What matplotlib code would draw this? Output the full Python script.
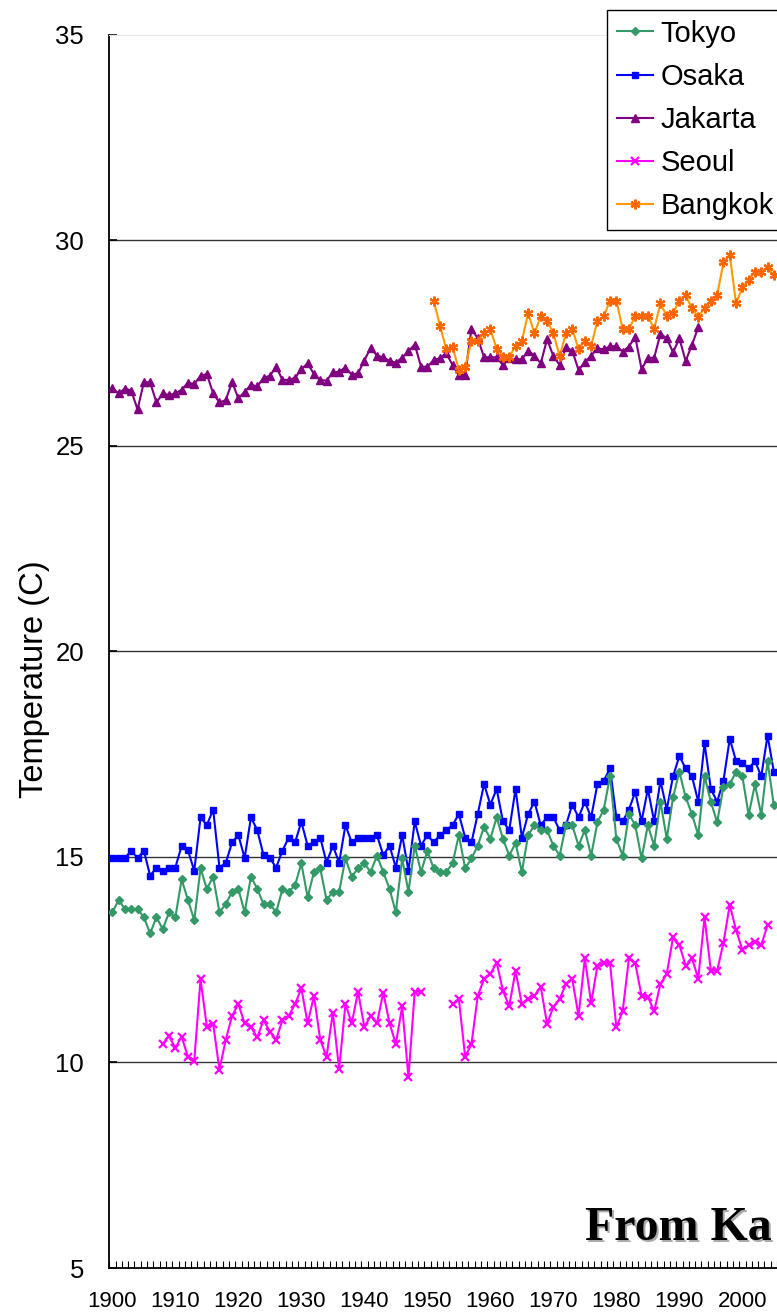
import matplotlib
matplotlib.use('Agg')
import matplotlib.pyplot as plt
from matplotlib import font_manager
import numpy as np

# annual mean temperatures (C)
tokyo_years = list(range(1900, 2006))
tokyo = [13.65, 13.95, 13.73, 13.73, 13.73, 13.53, 13.14, 13.53, 13.24, 13.65,
         13.53, 14.45, 13.95, 13.46, 14.72, 14.22, 14.52, 13.65, 13.85, 14.15,
         14.22, 13.65, 14.52, 14.22, 13.85, 13.85, 13.65, 14.22, 14.15, 14.31,
         14.84, 14.02, 14.63, 14.72, 13.95, 14.15, 14.15, 14.96, 14.52, 14.72,
         14.84, 14.63, 15.03, 14.63, 14.22, 13.65, 14.96, 14.15, 15.27, 14.63,
         15.14, 14.72, 14.63, 14.63, 14.84, 15.53, 14.72, 14.96, 15.27, 15.73,
         15.44, 15.96, 15.44, 15.03, 15.34, 14.63, 15.53, 15.77, 15.65, 15.65,
         15.27, 15.03, 15.77, 15.77, 15.27, 15.65, 15.03, 15.84, 16.15, 16.96,
         15.44, 15.03, 16.04, 15.77, 14.96, 15.77, 15.27, 16.34, 15.44, 16.45,
         17.07, 16.45, 16.04, 15.53, 16.96, 16.34, 15.84, 16.71, 16.76, 17.07,
         16.96, 16.02, 16.76, 16.02, 17.33, 16.25]

osaka_years = list(range(1900, 2006))
osaka = [14.97, 14.97, 14.97, 15.15, 14.97, 15.15, 14.54, 14.74, 14.66, 14.74,
         14.74, 15.27, 15.16, 14.66, 15.96, 15.77, 16.15, 14.74, 14.85, 15.35,
         15.53, 14.97, 15.96, 15.65, 15.04, 14.97, 14.74, 15.15, 15.47, 15.35,
         15.85, 15.27, 15.35, 15.47, 14.86, 15.27, 14.86, 15.77, 15.35, 15.47,
         15.47, 15.47, 15.53, 15.04, 15.27, 14.74, 15.53, 14.66, 15.86, 15.27,
         15.53, 15.35, 15.53, 15.65, 15.77, 16.04, 15.47, 15.35, 16.04, 16.77,
         16.27, 16.65, 15.86, 15.65, 16.65, 15.47, 16.04, 16.34, 15.77, 15.96,
         15.96, 15.65, 15.77, 16.27, 15.96, 16.34, 15.96, 16.77, 16.85, 17.15,
         15.96, 15.86, 16.15, 16.58, 15.86, 16.65, 15.86, 16.85, 16.15, 16.96,
         17.45, 17.15, 16.96, 16.34, 17.76, 16.65, 16.34, 16.85, 17.87, 17.33,
         17.27, 17.15, 17.33, 16.96, 17.95, 17.07]

jakarta_years = list(range(1900, 1994))
jakarta = [26.40, 26.27, 26.39, 26.34, 25.88, 26.54, 26.54, 26.05, 26.27, 26.23,
           26.27, 26.36, 26.53, 26.50, 26.70, 26.74, 26.27, 26.05, 26.11, 26.55,
           26.15, 26.31, 26.48, 26.44, 26.65, 26.70, 26.92, 26.60, 26.60, 26.65,
           26.86, 27.00, 26.74, 26.60, 26.58, 26.78, 26.80, 26.90, 26.73, 26.76,
           27.07, 27.38, 27.19, 27.15, 27.06, 27.02, 27.14, 27.30, 27.46, 26.92,
           26.92, 27.08, 27.13, 27.25, 26.96, 26.72, 26.72, 27.84, 27.61, 27.15,
           27.15, 27.15, 26.96, 27.13, 27.10, 27.10, 27.31, 27.19, 27.00, 27.59,
           27.18, 26.96, 27.39, 27.31, 26.84, 27.03, 27.19, 27.37, 27.34, 27.42,
           27.42, 27.29, 27.41, 27.65, 26.86, 27.13, 27.14, 27.72, 27.61, 27.27,
           27.61, 27.06, 27.45, 27.88]

nan = np.nan
seoul_years = list(range(1908, 2005))
seoul = [10.45, 10.64,
         10.35, 10.63, 10.13, 10.04, 12.02, 10.87, 10.94, 9.82, 10.55, 11.13,
         11.42, 10.95, 10.86, 10.61, 11.03, 10.75, 10.55, 11.03, 11.13, 11.42,
         11.80, 10.95, 11.62, 10.55, 10.14, 11.21, 9.83, 11.42, 10.95, 11.72,
         10.86, 11.13, 10.95, 11.70, 10.95, 10.45, 11.36, 9.64, 11.72, 11.72,
         nan, nan, nan, nan, 11.42, 11.54, 10.14, 10.44, 11.62, 12.03,
         12.15, 12.43, 11.74, 11.37, 12.23, 11.42, 11.54, 11.62, 11.84, 10.94,
         11.34, 11.54, 11.91, 12.03, 11.13, 12.53, 11.44, 12.35, 12.43, 12.41,
         10.85, 11.24, 12.53, 12.41, 11.62, 11.60, 11.24, 11.91, 12.15, 13.04,
         12.86, 12.35, 12.53, 12.04, 13.53, 12.23, 12.23, 12.91, 13.83, 13.22,
         12.74, 12.85, 12.93, 12.85, 13.34]

bangkok_years = list(range(1951, 2006))
bangkok = [28.53, 27.92, 27.35, 27.41, 26.84, 26.92, 27.55, 27.55, 27.73,
           27.84, 27.35, 27.16, 27.16, 27.42, 27.55, 28.22, 27.73, 28.15, 28.04,
           27.73, 27.18, 27.73, 27.84, 27.35, 27.55, 27.42, 28.04, 28.15, 28.53,
           28.53, 27.84, 27.84, 28.15, 28.15, 28.15, 27.84, 28.46, 28.15, 28.22,
           28.53, 28.66, 28.34, 28.14, 28.34, 28.53, 28.66, 29.46, 29.64, 28.46,
           28.85, 29.03, 29.23, 29.23, 29.35, 29.15]

y_ticks = [5, 10, 15, 20, 25, 30, 35]
x_labels = list(range(1900, 2001, 10))

# narrow Arial look-alike if there is one, else plain Liberation Sans a bit smaller
names = {f.name for f in font_manager.fontManager.ttflist}
narrow = 'Liberation Sans'
for cand in ['Liberation Sans Narrow', 'Arial Narrow']:
    if cand in names:
        narrow = cand
        break
is_narrow = narrow != 'Liberation Sans'
xt_size = 18.4 if is_narrow else 16
yt_size = 20.8 if is_narrow else 18.5
yl_size = 28 if is_narrow else 23.5

fig = plt.figure(figsize=(7.77, 13.13), dpi=100)
W, H = 777.0, 1313.0
x0, x1 = 1899.5, 2009.5
px_per_year = 6.3
left = 109.2
ax_w = (x1 - x0) * px_per_year
ax = fig.add_axes([left / W, (H - 1268) / H, ax_w / W, (1268 - 34.5) / H])

for y in y_ticks[1:-1]:
    ax.axhline(y, color='#333333', lw=1.0, zorder=1)

ax.plot(osaka_years, osaka, color='#0000FF', lw=1.5, marker='s', ms=4.4,
        mec='#0000FF', mfc='#0000FF', label='Osaka', zorder=3)
ax.plot(tokyo_years, tokyo, color='#339966', lw=1.5, marker='D', ms=3.8,
        mec='#339966', mfc='#339966', label='Tokyo', zorder=4)
ax.plot(jakarta_years, jakarta, color='#800080', lw=1.5, marker='^', ms=6,
        mec='#800080', mfc='#800080', label='Jakarta', zorder=3)
ax.plot(seoul_years, seoul, color='#FF00FF', lw=1.5, marker='x', ms=5.5,
        mew=1.6, mec='#FF00FF', label='Seoul', zorder=3)
ax.plot(bangkok_years, bangkok, color='#FF9900', lw=1.5, marker=(6, 2, 0), ms=7,
        mew=1.6, mec='#FF6600', label='Bangkok', zorder=5)

ax.set_xlim(x0, x1)
ax.set_ylim(5, 35)

ax.set_yticks(y_ticks)
ax.tick_params(axis='y', direction='in', length=6, width=1.2, pad=18,
               labelsize=yt_size, colors='black')
ax.set_xticks(x_labels)
ax.set_xticks(np.arange(x0, x1 + 0.1, 1.0), minor=True)
ax.tick_params(axis='x', which='major', length=0, pad=16.5, labelsize=xt_size)
ax.tick_params(axis='x', which='minor', direction='in', length=5, width=0.8)
for lab in ax.get_xticklabels() + ax.get_yticklabels():
    lab.set_family(narrow)

ax.set_ylabel('Temperature (C)', fontsize=yl_size, family=narrow)
ax.yaxis.set_label_coords((50 - left) / ax_w, (1268 - 679) / (1268 - 34.5))

ax.spines['top'].set_color('#e6e6e6')
ax.spines['right'].set_visible(False)
ax.spines['left'].set_linewidth(1.3)
ax.spines['bottom'].set_linewidth(1.3)

handles, labels = ax.get_legend_handles_labels()
order = [1, 0, 2, 3, 4]
leg = fig.legend([handles[i] for i in order], [labels[i] for i in order],
                 loc='upper left', bbox_to_anchor=(607 / W, 1 - 10 / H),
                 bbox_transform=fig.transFigure, frameon=True,
                 fancybox=False, edgecolor='black', framealpha=1,
                 handlelength=1.25, handletextpad=0.25, borderpad=0.33,
                 labelspacing=0.52, borderaxespad=0,
                 prop={'family': 'Liberation Sans', 'size': 21})
leg.get_frame().set_linewidth(1.0)

# credit text with a drop shadow, sized to stay inside the canvas
tx, ty = 585 / W, 1 - 1240 / H
fig.text(tx + 2 / W, ty - 2 / H, 'From Ka', family='Liberation Serif',
         weight='bold', fontsize=34.5, color='#aaaaaa', va='baseline')
fig.text(tx, ty, 'From Ka', family='Liberation Serif', weight='bold',
         fontsize=34.5, color='black', va='baseline')

fig.savefig('out.png', dpi=100)
